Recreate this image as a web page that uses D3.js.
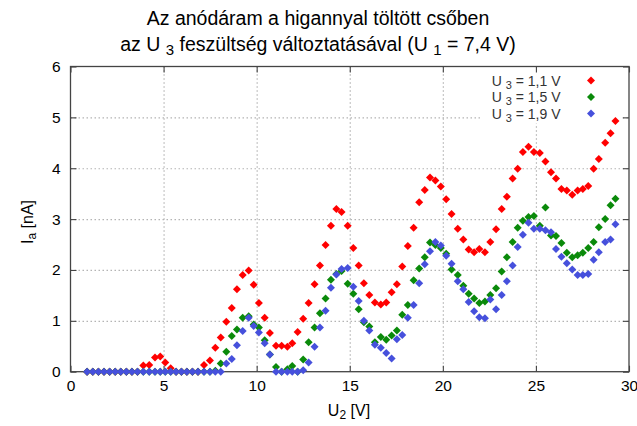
<!DOCTYPE html>
<html>
<head>
<meta charset="utf-8">
<script src="https://cdn.jsdelivr.net/npm/d3@7"></script>
<style>
  body { margin: 0; background: #fff; }
  svg { font-family: "Liberation Sans", Arial, sans-serif; }
</style>
</head>
<body>
<div id="chart"></div>
<script>
var svgWidth = 637;
var svgHeight = 426;

var margin = { top: 66.5, right: 8, bottom: 54.3, left: 70.5 };
var width = svgWidth - margin.left - margin.right;
var height = svgHeight - margin.top - margin.bottom;

// U2 values [V] shared by all three series
var u2 = [0.89, 1.2, 1.5, 1.8, 2.1, 2.4, 2.7, 3.0, 3.3, 3.6,
  3.91, 4.23, 4.54, 4.82, 5.09, 5.38, 5.67, 5.96, 6.25, 6.55,
  6.85, 7.17, 7.49, 7.78, 8.07, 8.37, 8.66, 8.94, 9.25, 9.57,
  9.84, 10.12, 10.43, 10.71, 11.04, 11.34, 11.65, 11.91, 12.2, 12.5,
  12.79, 13.11, 13.4, 13.7, 13.99, 14.28, 14.56, 14.89, 15.19, 15.48,
  15.76, 16.05, 16.35, 16.67, 16.96, 17.25, 17.53, 17.82, 18.12, 18.43,
  18.73, 19.03, 19.31, 19.6, 19.89, 20.18, 20.47, 20.8, 21.1, 21.39,
  21.68, 21.96, 22.26, 22.55, 22.86, 23.16, 23.44, 23.75, 24.02, 24.3,
  24.6, 24.89, 25.21, 25.51, 25.81, 26.08, 26.37, 26.66, 26.95, 27.24,
  27.52, 27.81, 28.1, 28.38, 28.72, 29.01, 29.27];

// anode current [nA]
var ia11 = [0, 0, 0, 0, 0, 0, 0, 0, 0, 0,
  0.12, 0.13, 0.28, 0.30, 0.18, 0.07, 0, 0, 0, 0,
  0, 0.13, 0.22, 0.47, 0.67, 0.98, 1.25, 1.62, 1.90, 1.99,
  1.71, 1.35, 1.06, 0.76, 0.51, 0.51, 0.49, 0.56, 0.78, 1.04,
  1.35, 1.72, 2.09, 2.49, 2.87, 3.20, 3.14, 2.87, 2.43, 2.09,
  1.74, 1.51, 1.36, 1.32, 1.36, 1.56, 1.72, 2.07, 2.47, 2.83,
  3.33, 3.57, 3.82, 3.76, 3.64, 3.39, 3.10, 2.81, 2.60, 2.40,
  2.35, 2.41, 2.35, 2.55, 2.80, 3.20, 3.44, 3.80, 3.99, 4.32,
  4.42, 4.32, 4.30, 4.13, 3.92, 3.80, 3.59, 3.56, 3.48, 3.56,
  3.59, 3.65, 3.99, 4.18, 4.50, 4.69, 4.93];

var ia15 = [0, 0, 0, 0, 0, 0, 0, 0, 0, 0,
  0, 0, 0, 0, 0, 0, 0, 0, 0, 0,
  0, 0, 0, 0.02, 0.16, 0.39, 0.70, 0.83, 1.06, 1.09,
  0.93, 0.87, 0.62, 0.34, 0.09, 0, 0.05, 0.11, 0, 0.24,
  0.58, 0.87, 1.15, 1.44, 1.81, 1.92, 1.98, 1.73, 1.53, 1.23,
  0.97, 0.89, 0.58, 0.68, 0.63, 0.71, 0.81, 1.12, 1.31, 1.80,
  2.03, 2.25, 2.54, 2.49, 2.43, 2.32, 2.01, 1.90, 1.69, 1.53,
  1.44, 1.35, 1.38, 1.51, 1.64, 1.97, 2.25, 2.55, 2.83, 2.97,
  3.04, 3.06, 2.87, 3.23, 2.68, 2.67, 2.53, 2.34, 2.25, 2.29,
  2.34, 2.43, 2.55, 2.84, 3.00, 3.27, 3.40];

var ia19 = [0, 0, 0, 0, 0, 0, 0, 0, 0, 0,
  0, 0, 0, 0, 0, 0, 0, 0, 0, 0,
  0, 0, 0, 0, 0, 0.16, 0.25, 0.52, 0.80, 1.06,
  0.90, 0.77, 0.56, 0.34, 0, 0, 0, 0, 0, 0.03,
  0.18, 0.49, 0.87, 1.20, 1.65, 1.91, 2.02, 2.04, 1.67, 1.39,
  1.00, 0.81, 0.53, 0.47, 0.37, 0.26, 0.64, 0.72, 1.06, 1.31,
  1.74, 2.11, 2.37, 2.55, 2.48, 2.28, 2.12, 1.78, 1.62, 1.37,
  1.19, 1.07, 1.05, 1.42, 1.23, 1.51, 1.78, 2.09, 2.45, 2.69,
  2.93, 2.81, 2.81, 2.78, 2.74, 2.41, 2.26, 2.13, 2.01, 1.90,
  1.90, 1.92, 2.20, 2.35, 2.55, 2.60, 2.90];

var seriesLabels = ["1,1", "1,5", "1,9"];
var seriesColors = ["#ff0000", "#0a8a0a", "#4650dc"];
var seriesValues = [ia11, ia15, ia19];

var xTicks = [0, 5, 10, 15, 20, 25, 30];
var yTicks = [0, 1, 2, 3, 4, 5, 6];

var svg = d3.select("#chart")
  .append("svg")
  .attr("width", svgWidth)
  .attr("height", svgHeight);

var chartGroup = svg.append("g")
  .attr("transform", `translate(${margin.left}, ${margin.top})`);

var xScale = d3.scaleLinear().domain([0, 30]).range([0, width]);
var yScale = d3.scaleLinear().domain([0, 6]).range([height, 0]);

// grid lines (dotted)
var xGrid = chartGroup.append("g")
  .attr("transform", `translate(0, ${height})`)
  .call(d3.axisBottom(xScale).tickValues(xTicks.slice(1, -1)).tickSize(-height).tickFormat(""));
var yGrid = chartGroup.append("g")
  .call(d3.axisLeft(yScale).tickValues(yTicks.slice(1, -1)).tickSize(-width).tickFormat(""));
[xGrid, yGrid].forEach(function(g) {
  g.select(".domain").remove();
  g.selectAll("line")
    .attr("stroke", "#b4b4b4")
    .attr("stroke-width", 1.2)
    .attr("stroke-dasharray", "1.5,2.5");
});

// legend background hides grid under it
chartGroup.append("rect")
  .attr("x", 410)
  .attr("y", 1)
  .attr("width", 141)
  .attr("height", 56)
  .attr("fill", "#fff");

// axes with inward ticks, mirrored
function styleAxis(g) {
  g.select(".domain").remove();
  g.selectAll("line").attr("stroke", "#444").attr("stroke-width", 1.1);
  g.selectAll("text").attr("font-size", 15.5).attr("fill", "#000")
    .attr("font-family", "Liberation Sans, Arial, sans-serif");
}

chartGroup.append("g")
  .attr("transform", `translate(0, ${height})`)
  .call(d3.axisBottom(xScale).tickValues(xTicks).tickFormat(d3.format("d")).tickSize(-6).tickPadding(8))
  .call(styleAxis);
chartGroup.append("g")
  .call(d3.axisTop(xScale).tickValues(xTicks).tickSize(-6).tickFormat(""))
  .call(styleAxis);
chartGroup.append("g")
  .call(d3.axisLeft(yScale).tickValues(yTicks).tickFormat(d3.format("d")).tickSize(-6).tickPadding(10))
  .call(styleAxis);
chartGroup.append("g")
  .attr("transform", `translate(${width}, 0)`)
  .call(d3.axisRight(yScale).tickValues(yTicks).tickSize(-6).tickFormat(""))
  .call(styleAxis);

chartGroup.append("rect")
  .attr("width", width)
  .attr("height", height)
  .attr("fill", "none")
  .attr("stroke", "#444")
  .attr("stroke-width", 1.3);

// points
var diamond = "M0,-4L4,0L0,4L-4,0Z";

seriesValues.forEach(function(vals, i) {
  chartGroup.append("g")
    .selectAll("path")
    .data(vals)
    .enter()
    .append("path")
    .attr("d", diamond)
    .attr("transform", (d, j) => `translate(${xScale(u2[j])}, ${yScale(d)})`)
    .attr("fill", seriesColors[i]);
});

// legend
seriesLabels.forEach(function(lab, i) {
  var ly = 14 + i * 16.5;
  var t = chartGroup.append("text")
    .attr("x", 490)
    .attr("y", ly + 5)
    .attr("text-anchor", "end")
    .attr("font-size", 14)
    .attr("fill", "#333");
  t.append("tspan").text("U ");
  t.append("tspan").attr("font-size", 11).attr("dy", 3).text("3");
  t.append("tspan").attr("dy", -3).text(" = " + lab + " V");
  chartGroup.append("path")
    .attr("d", diamond)
    .attr("transform", `translate(${520.5}, ${ly})`)
    .attr("fill", seriesColors[i]);
});

// title
var title1 = svg.append("text")
  .attr("x", 318)
  .attr("y", 25)
  .attr("text-anchor", "middle")
  .attr("font-size", 19.5)
  .text("Az anódáram a higannyal töltött csőben");

var title2 = svg.append("text")
  .attr("x", 318)
  .attr("y", 51)
  .attr("text-anchor", "middle")
  .attr("font-size", 19.5);
title2.append("tspan").text("az U ");
title2.append("tspan").attr("font-size", 15).attr("dy", 4).text("3");
title2.append("tspan").attr("dy", -4).text(" feszültség változtatásával (U ");
title2.append("tspan").attr("font-size", 15).attr("dy", 4).text("1");
title2.append("tspan").attr("dy", -4).text(" = 7,4 V)");

// axis labels
var xLabel = svg.append("text")
  .attr("x", 349)
  .attr("y", 416)
  .attr("text-anchor", "middle")
  .attr("font-size", 16);
xLabel.append("tspan").text("U");
xLabel.append("tspan").attr("font-size", 12).attr("dy", 3).text("2");
xLabel.append("tspan").attr("dy", -3).text(" [V]");

var yLabel = svg.append("text")
  .attr("transform", "translate(33, 222) rotate(-90)")
  .attr("text-anchor", "middle")
  .attr("font-size", 16);
yLabel.append("tspan").text("I");
yLabel.append("tspan").attr("font-size", 12).attr("dy", 3).text("a");
yLabel.append("tspan").attr("dy", -3).text(" [nA]");
</script>
</body>
</html>
